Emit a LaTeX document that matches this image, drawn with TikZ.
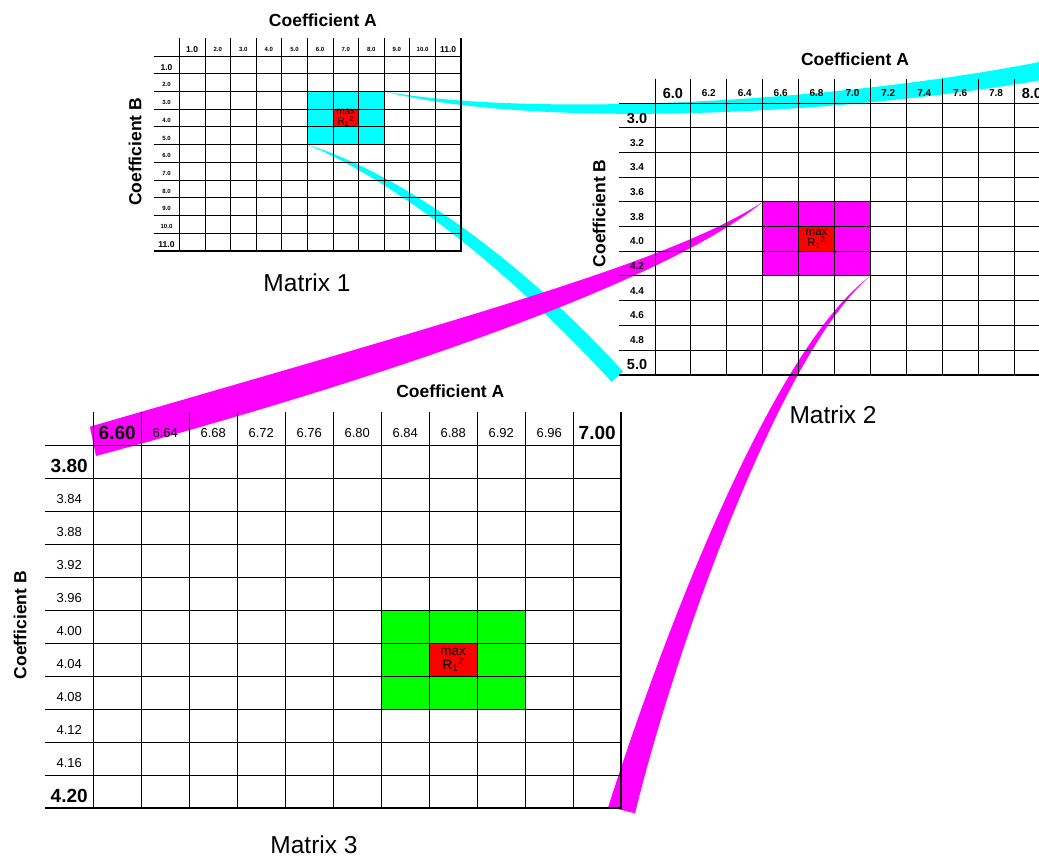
\documentclass[tikz,border=0pt]{standalone}
\usepackage{fontspec}
\setmainfont{Liberation Sans}
\usetikzlibrary{calc}
\pgfdeclarelayer{bg}
\pgfsetlayers{bg,main}
\definecolor{zoomcyan}{RGB}{0,255,255}
\definecolor{zoommagenta}{RGB}{255,0,255}
\definecolor{zoomgreen}{RGB}{0,255,0}
\definecolor{maxred}{RGB}{255,0,0}

\begin{document}
\begin{tikzpicture}[
  x=1pt, y=-1pt,
  title/.style={inner sep=0pt, font=\bfseries\fontsize{17.5}{20}\selectfont},
  caption/.style={inner sep=0pt, font=\fontsize{24.5}{28}\selectfont},
  maxcell/.style={inner sep=0pt, align=center}
]
\useasboundingbox (0,0) rectangle (1039,857);

\begin{scope}[shift={(179.3,56)}, x=25.6pt, y=-17.7pt,
  gridline/.style={line width=0.8pt},
  edgeline/.style={line width=1.6pt},
  lab/.style={font=\bfseries\fontsize{6}{7}\selectfont},
  biglab/.style={font=\bfseries\fontsize{8.5}{10}\selectfont}]
\fill[zoomcyan] (5,2) rectangle (8,5);
\fill[maxred] (6,3) rectangle (7,4);
\coordinate (c1ne) at (8,2);
\coordinate (c1sw) at (5,5);
\foreach \i in {0,...,10} {
  \draw[gridline] (\i,-1) -- (\i,11);
  \draw[gridline] (-1,\i) -- (11,\i);
}
\draw[edgeline] (-1,11) -- (11,11) -- (11,-1);
\node[biglab] (m1c0) at (0.5,-0.37) {1.0};
\node[biglab] (m1c10) at (10.5,-0.37) {11.0};
\node[biglab] (m1r0) at (-0.5,0.63) {1.0};
\node[biglab] (m1r10) at (-0.5,10.63) {11.0};
\foreach \t [count=\i] in {2.0,3.0,4.0,5.0,6.0,7.0,8.0,9.0,10.0} {
  \node[lab] (m1c\i) at (\i+0.5,-0.37) {\t};
  \node[lab] (m1r\i) at (-0.5,\i+0.63) {\t};
}
\node[maxcell, font=\fontsize{10}{10}\selectfont] (m1max) at (6.5,3.5) {max\\R\textsubscript{1}\textsuperscript{2}};
\node[title] (m1ta) at (5.61,-2.03) {Coefficient A};
\node[title, rotate=90] (m1tb) at (-1.73,5.41) {Coefficient B};
\node[caption] (m1name) at (4.99,12.82) {Matrix 1};
\end{scope}

\begin{scope}[shift={(655,103.3)}, x=35.9pt, y=-24.67pt,
  gridline/.style={line width=1pt},
  edgeline/.style={line width=2pt},
  lab/.style={font=\bfseries\fontsize{10}{12}\selectfont},
  biglab/.style={font=\bfseries\fontsize{14.5}{16}\selectfont}]
\fill[zoommagenta] (3,4) rectangle (6,7);
\fill[maxred] (4,5) rectangle (5,6);
\coordinate (p2nw) at (3,4);
\coordinate (p2se) at (6,7);
\coordinate (m2ne) at (11,-1);
\coordinate (m2sw) at (-1,11);
\foreach \i in {0,...,10} {
  \draw[gridline] (\i,-1) -- (\i,11);
  \draw[gridline] (-1,\i) -- (11,\i);
}
\draw[edgeline] (-1,11) -- (11,11) -- (11,-1);
\node[biglab] (m2c0) at (0.5,-0.4) {6.0};
\node[biglab] (m2c10) at (10.5,-0.4) {8.0};
\node[biglab] (m2r0) at (-0.5,0.6) {3.0};
\node[biglab] (m2r10) at (-0.5,10.6) {5.0};
\foreach \t [count=\i] in {6.2,6.4,6.6,6.8,7.0,7.2,7.4,7.6,7.8} {
  \node[lab] (m2c\i) at (\i+0.5,-0.4) {\t};
}
\foreach \t [count=\i] in {3.2,3.4,3.6,3.8,4.0,4.2,4.4,4.6,4.8} {
  \node[lab] (m2r\i) at (-0.5,\i+0.6) {\t};
}
\node[maxcell, font=\fontsize{11.5}{11.5}\selectfont] (m2max) at (4.5,5.5) {max\\R\textsubscript{1}\textsuperscript{2}};
\node[title] (m2ta) at (5.57,-1.77) {Coefficient A};
\node[title, rotate=90] (m2tb) at (-1.56,4.46) {Coefficient B};
\node[caption] (m2name) at (4.96,12.63) {Matrix 2};
\end{scope}

\begin{scope}[shift={(93.2,445.3)}, x=48pt, y=-33pt,
  gridline/.style={line width=1.1pt},
  edgeline/.style={line width=2pt},
  lab/.style={font=\fontsize{13}{15}\selectfont},
  biglab/.style={font=\bfseries\fontsize{19}{22}\selectfont}]
\fill[zoomgreen] (6,5) rectangle (9,8);
\fill[maxred] (7,6) rectangle (8,7);
\coordinate (m3nw) at (0,0);
\coordinate (m3se) at (11,11);
\foreach \i in {0,...,10} {
  \draw[gridline] (\i,-1) -- (\i,11);
  \draw[gridline] (-1,\i) -- (11,\i);
}
\draw[edgeline] (-1,11) -- (11,11) -- (11,-1);
\node[biglab] (m3c0) at (0.5,-0.38) {6.60};
\node[biglab] (m3c10) at (10.5,-0.38) {7.00};
\node[biglab] (m3r0) at (-0.5,0.62) {3.80};
\node[biglab] (m3r10) at (-0.5,10.62) {4.20};
\foreach \t [count=\i] in {6.64,6.68,6.72,6.76,6.80,6.84,6.88,6.92,6.96} {
  \node[lab] (m3c\i) at (\i+0.5,-0.38) {\t};
}
\foreach \t [count=\i] in {3.84,3.88,3.92,3.96,4.00,4.04,4.08,4.12,4.16} {
  \node[lab] (m3r\i) at (-0.5,\i+0.62) {\t};
}
\node[maxcell, font=\fontsize{13.5}{14.5}\selectfont] (m3max) at (7.5,6.5) {max\\R\textsubscript{1}\textsuperscript{2}};
\node[title] (m3ta) at (7.44,-1.65) {Coefficient A};
\node[title, rotate=90] (m3tb) at (-1.52,5.45) {Coefficient B};
\node[caption] (m3name) at (4.6,12.1) {Matrix 3};
\end{scope}

\begin{pgfonlayer}{bg}
\fill[zoomcyan] (c1ne) .. controls (520,116) and (820,106) .. ($(m2ne)+(2,-19)$)
  -- (m2ne) .. controls (830,117) and (530,128) .. (c1ne) -- cycle;
\fill[zoomcyan] (c1sw) .. controls (420,180) and (545,285) .. ($(m2sw)+(4,-3)$)
  -- ($(m2sw)+(-7.6,7)$) .. controls (530,293) and (415,190) .. (c1sw) -- cycle;
\fill[zoommagenta] (p2nw) .. controls (672.7,260) and (490,310.7) .. ($(m3nw)+(-3.3,-18.6)$)
  -- ($(m3nw)+(2.8,10.7)$) .. controls (446,361.5) and (680,270) .. (p2nw) -- cycle;
\fill[zoommagenta] (p2se) .. controls (780,352) and (675,650) .. ($(m3se)+(13.8,5)$)
  -- ($(m3se)+(-12.9,-1.6)$) .. controls (660,645) and (770,350) .. (p2se) -- cycle;
\end{pgfonlayer}
\end{tikzpicture}
\end{document}
